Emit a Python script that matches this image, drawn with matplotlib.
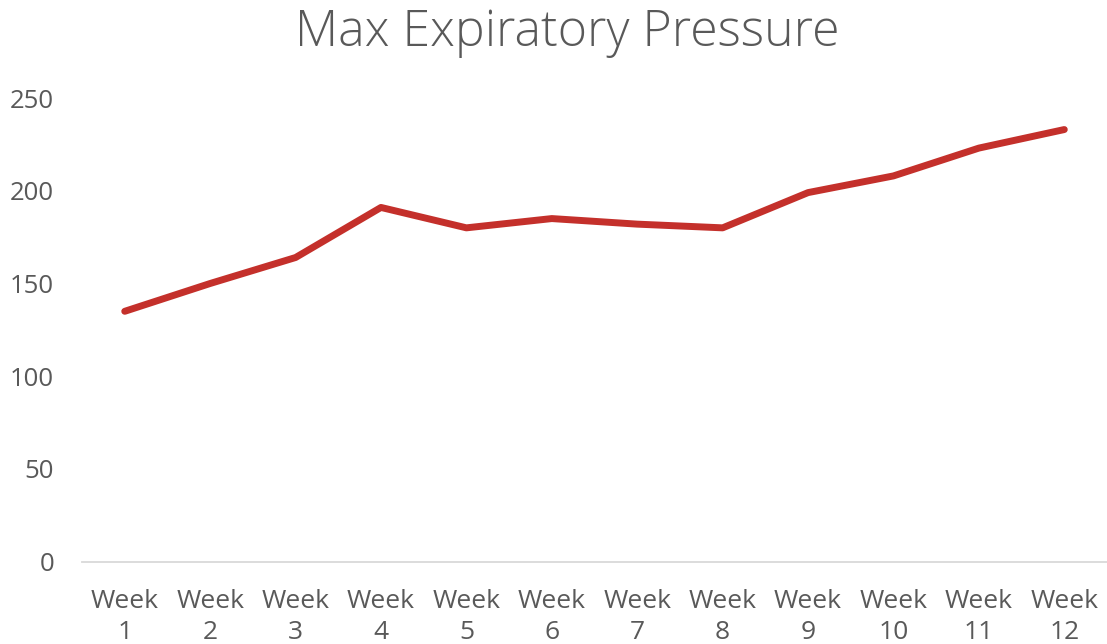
import matplotlib
matplotlib.use("Agg")
import matplotlib.pyplot as plt

categories = ["Week\n1", "Week\n2", "Week\n3", "Week\n4", "Week\n5", "Week\n6",
              "Week\n7", "Week\n8", "Week\n9", "Week\n10", "Week\n11", "Week\n12"]
values = [135, 150, 164, 191, 180, 185, 182, 180, 199, 208, 223, 233]
yticks = [0, 50, 100, 150, 200, 250]

plt.rcParams['font.family'] = ['Open Sans', 'DejaVu Sans']
txt = '#595959'

fig = plt.figure(figsize=(11.07, 6.44), dpi=100)
ax = fig.add_axes([0.0741, 0.1278, 0.9259, 0.72])
x = list(range(len(categories)))
ax.plot(x, values, color='#C4302B', linewidth=5, solid_capstyle='round', solid_joinstyle='round')
ax.set_xlim(-0.5, len(categories) - 0.5)
ax.set_ylim(0, 250)
ax.set_yticks(yticks)
ax.set_xticks(x)
ax.set_xticklabels(categories, fontsize=19, color=txt, linespacing=1.3)
ax.tick_params(axis='y', labelsize=18.5, colors=txt, length=0, pad=20)
ax.tick_params(axis='x', colors=txt, length=0, pad=20)
for s in ['top', 'right', 'left']:
    ax.spines[s].set_visible(False)
ax.spines['bottom'].set_color('#d9d9d9')
ax.spines['bottom'].set_linewidth(1.3)
fig.text(0.512, 0.948, "Max Expiratory Pressure", ha='center', va='center',
         fontsize=36, color=txt, fontweight='light')
fig.savefig('out.png', dpi=100)
